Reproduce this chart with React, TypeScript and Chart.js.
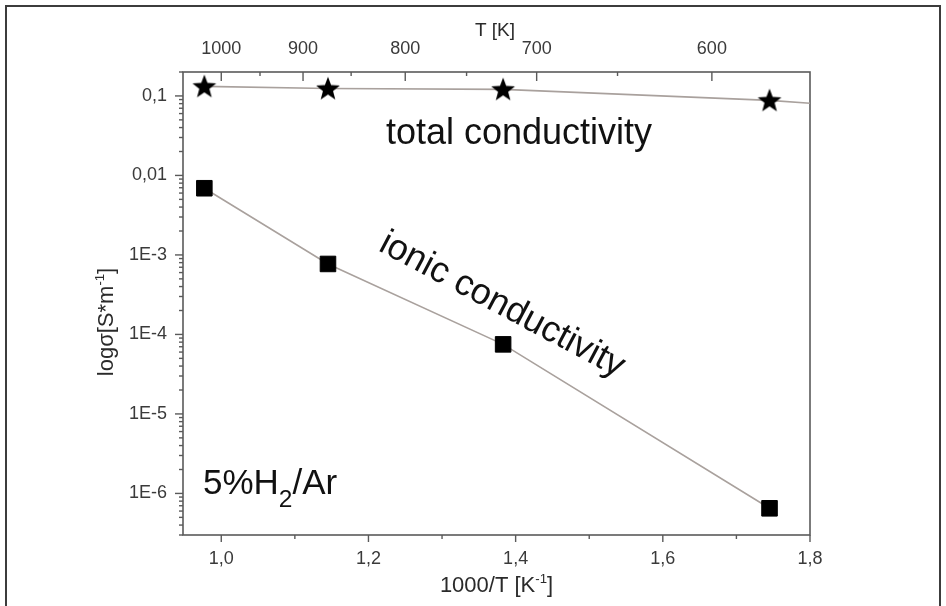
import React, { useEffect, useRef } from "react";
import { Chart, registerables } from "chart.js";
Chart.register(...registerables);

// ---- data ----
const invT = [0.977, 1.145, 1.383, 1.745]; // 1000/T [1/K]
const ionicSigma = [6.9e-3, 7.7e-4, 7.5e-5, 6.5e-7];
const totalSigma = [0.132, 0.124, 0.121, 0.088];
const totalLineX = [0.977, 1.145, 1.383, 1.745, 1.8];
const totalLineY = [0.132, 0.124, 0.121, 0.088, 0.081];

// ---- axes ----
const xRange = [0.948, 1.8];
const yRange = [3e-7, 0.2];
const xMajorTicks = [1.0, 1.2, 1.4, 1.6, 1.8];
const xMinorTicks = [1.1, 1.3, 1.5, 1.7];
const tMajorTicks = [1000, 900, 800, 700, 600];
const tMinorTicks = [950, 850, 750, 650];
const yDecades = [1e-6, 1e-5, 1e-4, 1e-3, 1e-2, 1e-1];
const yDecadeLabels = ["1E-6", "1E-5", "1E-4", "1E-3", "0,01", "0,1"];

const FONT = '"Liberation Sans", Arial, Helvetica, sans-serif';
const TICK_COLOR = "#3a3a3a";
const AXIS_COLOR = "#5a5a5a";

type Seg = { t: string; s?: number; dy?: number };

function drawRich(
  ctx: CanvasRenderingContext2D,
  segs: Seg[],
  x: number,
  y: number,
  size: number,
  rot: number,
  align: "left" | "center",
  baseline: CanvasTextBaseline,
  color: string
) {
  ctx.save();
  ctx.translate(x, y);
  ctx.rotate(rot);
  ctx.fillStyle = color;
  ctx.textBaseline = baseline;
  ctx.textAlign = "left";
  const ws = segs.map((sg) => {
    ctx.font = `${size * (sg.s ?? 1)}px ${FONT}`;
    return ctx.measureText(sg.t).width;
  });
  const total = ws.reduce((a, b) => a + b, 0);
  let cx = align === "center" ? -total / 2 : 0;
  segs.forEach((sg, i) => {
    ctx.font = `${size * (sg.s ?? 1)}px ${FONT}`;
    ctx.fillText(sg.t, cx, (sg.dy ?? 0) * size);
    cx += ws[i];
  });
  ctx.restore();
}

function makeStar(): HTMLCanvasElement {
  const c = document.createElement("canvas");
  c.width = 28;
  c.height = 28;
  const g = c.getContext("2d")!;
  const R = 12.5,
    r = 5.3,
    cx = 14,
    cy = 14.8;
  g.beginPath();
  for (let i = 0; i < 10; i++) {
    const rad = i % 2 === 0 ? R : r;
    const a = -Math.PI / 2 + (i * Math.PI) / 5;
    const px = cx + rad * Math.cos(a);
    const py = cy + rad * Math.sin(a);
    if (i === 0) g.moveTo(px, py);
    else g.lineTo(px, py);
  }
  g.closePath();
  g.fillStyle = "#000";
  g.fill();
  return c;
}

const framePlugin = {
  id: "frame",
  beforeDatasetsDraw(chart: any) {
    const { ctx, chartArea: a } = chart;
    ctx.save();
    ctx.strokeStyle = AXIS_COLOR;
    ctx.lineWidth = 1.6;
    ctx.strokeRect(a.left, a.top, a.right - a.left, a.bottom - a.top);
    ctx.restore();
  },
  afterDraw(chart: any) {
    const { ctx, chartArea: a, scales } = chart;
    const xs = scales.x;
    const ys = scales.y;
    ctx.save();
    ctx.strokeStyle = AXIS_COLOR;
    ctx.lineWidth = 1.4;
    const line = (x1: number, y1: number, x2: number, y2: number) => {
      ctx.beginPath();
      ctx.moveTo(x1, y1);
      ctx.lineTo(x2, y2);
      ctx.stroke();
    };
    // bottom axis ticks (outward)
    xMajorTicks.forEach((v) => {
      const px = xs.getPixelForValue(v);
      line(px, a.bottom, px, a.bottom + 7);
    });
    xMinorTicks.forEach((v) => {
      const px = xs.getPixelForValue(v);
      line(px, a.bottom, px, a.bottom + 4);
    });
    // top axis ticks (inward)
    tMajorTicks.forEach((t) => {
      const px = xs.getPixelForValue(1000 / t);
      line(px, a.top, px, a.top + 9);
    });
    tMinorTicks.forEach((t) => {
      const px = xs.getPixelForValue(1000 / t);
      line(px, a.top, px, a.top + 4);
    });
    // left axis ticks (outward)
    yDecades.forEach((v) => {
      const py = ys.getPixelForValue(v);
      line(a.left, py, a.left - 8, py);
    });
    for (let e = -7; e <= -1; e++) {
      for (let m = 2; m <= 9; m++) {
        const v = m * Math.pow(10, e);
        if (v < yRange[0] || v > yRange[1]) continue;
        const py = ys.getPixelForValue(v);
        line(a.left, py, a.left - 4, py);
      }
    }
    ctx.restore();

    // axis titles
    drawRich(ctx, [{ t: "T [K]" }], 495, 36, 19, 0, "center", "alphabetic", "#2a2a2a");
    drawRich(
      ctx,
      [{ t: "1000/T [K" }, { t: "-1", s: 0.6, dy: -0.42 }, { t: "]" }],
      (a.left + a.right) / 2,
      592,
      22,
      0,
      "center",
      "alphabetic",
      "#2a2a2a"
    );
    drawRich(
      ctx,
      [{ t: "log\u03c3[S*m" }, { t: "-1", s: 0.6, dy: -0.42 }, { t: "]" }],
      113,
      322,
      22,
      -Math.PI / 2,
      "center",
      "alphabetic",
      "#2a2a2a"
    );

    // annotations
    drawRich(ctx, [{ t: "total conductivity" }], 519, 144, 36, 0, "center", "alphabetic", "#111");
    drawRich(
      ctx,
      [{ t: "ionic conductivity" }],
      502,
      305,
      36,
      (28 * Math.PI) / 180,
      "center",
      "middle",
      "#111"
    );
    drawRich(
      ctx,
      [{ t: "5%H" }, { t: "2", s: 0.7, dy: 0.37 }, { t: "/Ar" }],
      203,
      494,
      35,
      0,
      "left",
      "alphabetic",
      "#111"
    );
  },
};

export default function App() {
  const ref = useRef<HTMLCanvasElement | null>(null);

  useEffect(() => {
    if (!ref.current) return;
    const star = makeStar();
    const tickFont = { family: FONT, size: 18 };
    const chart = new Chart(ref.current, {
      type: "scatter",
      data: {
        datasets: [
          {
            label: "ionic",
            data: invT.map((x, i) => ({ x, y: ionicSigma[i] })),
            showLine: true,
            borderColor: "#a9a19d",
            borderWidth: 1.6,
            pointStyle: "rect",
            pointRadius: 11,
            pointBackgroundColor: "#000",
            pointBorderColor: "#000",
            pointBorderWidth: 1,
            xAxisID: "x",
            yAxisID: "y",
          },
          {
            label: "total",
            data: invT.map((x, i) => ({ x, y: totalSigma[i] })),
            showLine: false,
            pointStyle: star as any,
            pointRadius: 12,
            xAxisID: "x",
            yAxisID: "y",
          },
          {
            label: "total line",
            data: totalLineX.map((x, i) => ({ x, y: totalLineY[i] })),
            showLine: true,
            borderColor: "#a9a19d",
            borderWidth: 1.6,
            pointRadius: 0,
            xAxisID: "x",
            yAxisID: "y",
          },
        ],
      },
      options: {
        responsive: false,
        animation: false,
        devicePixelRatio: 1,
        layout: { padding: { left: 0, right: 136, top: 0, bottom: 0 } },
        plugins: { legend: { display: false }, tooltip: { enabled: false } },
        scales: {
          x: {
            type: "linear",
            position: "bottom",
            min: xRange[0],
            max: xRange[1],
            afterBuildTicks: (s: any) => {
              s.ticks = xMajorTicks.map((v) => ({ value: v }));
            },
            afterFit: (s: any) => {
              s.height = 71;
            },
            ticks: {
              autoSkip: false,
              maxRotation: 0,
              padding: 13,
              color: TICK_COLOR,
              font: tickFont,
              callback: (v: any) => Number(v).toFixed(1).replace(".", ","),
            },
            grid: { display: false, drawTicks: false },
            border: { display: false },
          },
          x2: {
            type: "linear",
            position: "top",
            min: xRange[0],
            max: xRange[1],
            afterBuildTicks: (s: any) => {
              s.ticks = tMajorTicks.map((t) => ({ value: 1000 / t }));
            },
            afterFit: (s: any) => {
              s.height = 72;
            },
            ticks: {
              autoSkip: false,
              maxRotation: 0,
              padding: 12,
              color: TICK_COLOR,
              font: tickFont,
              callback: (v: any) => String(Math.round(1000 / Number(v))),
            },
            grid: { display: false, drawTicks: false },
            border: { display: false },
          },
          y: {
            type: "logarithmic",
            position: "left",
            min: yRange[0],
            max: yRange[1],
            afterBuildTicks: (s: any) => {
              s.ticks = yDecades.map((v) => ({ value: v }));
            },
            afterFit: (s: any) => {
              s.width = 183;
            },
            ticks: {
              autoSkip: false,
              padding: 16,
              color: TICK_COLOR,
              font: tickFont,
              callback: (v: any) => {
                const idx = yDecades.findIndex((d) => Math.abs(Math.log10(d) - Math.log10(Number(v))) < 1e-6);
                return idx >= 0 ? yDecadeLabels[idx] : "";
              },
            },
            grid: { display: false, drawTicks: false },
            border: { display: false },
          },
        },
      },
      plugins: [framePlugin],
    } as any);
    return () => chart.destroy();
  }, []);

  return (
    <div
      style={{
        position: "fixed",
        left: 0,
        top: 0,
        width: 946,
        height: 606,
        overflow: "hidden",
        background: "#fff",
      }}
    >
      <div
        style={{
          position: "absolute",
          left: 5,
          top: 5,
          width: 932,
          height: 620,
          border: "2px solid #3c3c3c",
          borderBottom: "none",
        }}
      />
      <canvas
        ref={ref}
        width={946}
        height={606}
        style={{ position: "absolute", left: 0, top: 0 }}
      />
    </div>
  );
}
